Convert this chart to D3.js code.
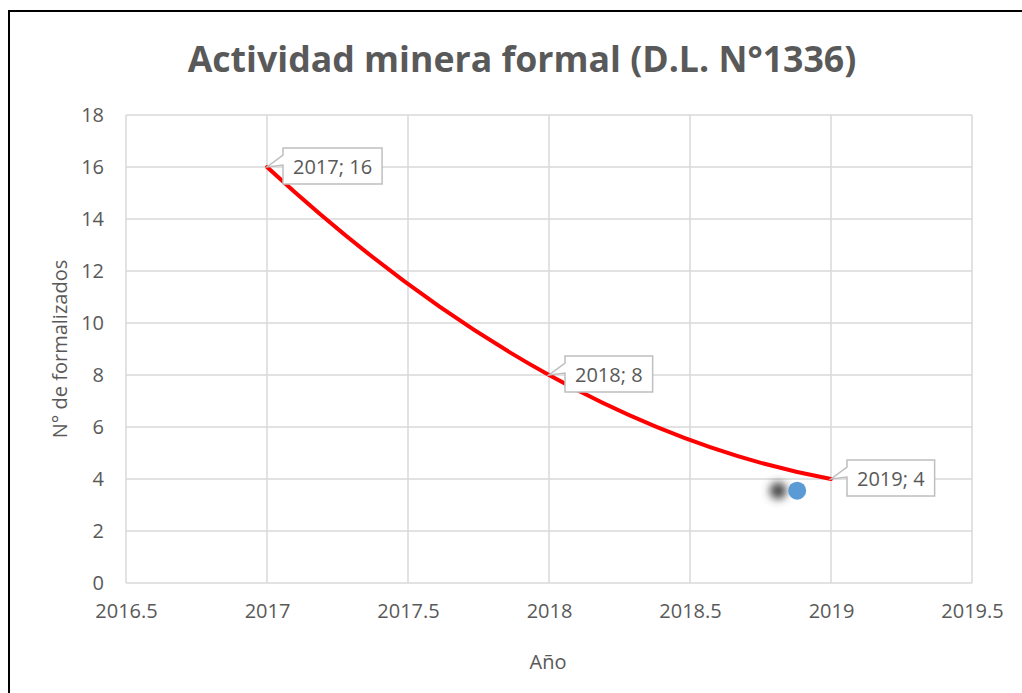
<!DOCTYPE html>
<html>
<head>
<meta charset="utf-8">
<script src="https://cdn.jsdelivr.net/npm/d3@7"></script>
<style>
  body { margin: 0; background: #fff; }
  svg { display: block; font-family: "Open Sans", sans-serif; }
</style>
</head>
<body>
<svg></svg>
<script>
// Chart data
let years = [2017, 2018, 2019];
let counts = [16, 8, 4];
let labels = ["2017; 16", "2018; 8", "2019; 4"];
// stray marker sitting in the plot
let strayPoint = [2018.88, 3.55];

// Tick labels
let xTicks = [2016.5, 2017, 2017.5, 2018, 2018.5, 2019, 2019.5];
let yTicks = [0, 2, 4, 6, 8, 10, 12, 14, 16, 18];

// Layout
let width = 1022;
let height = 693;
let plot = { left: 126, right: 972, top: 115, bottom: 583 };
let textColor = "#595959";
let gridColor = "#d9d9d9";
let fontSize = 20;

let svg = d3.select("svg").attr("width", width).attr("height", height);

let xScale = d3.scaleLinear().domain([2016.5, 2019.5]).range([plot.left, plot.right]);
let yScale = d3.scaleLinear().domain([0, 18]).range([plot.bottom, plot.top]);

// Excel-like smoothing: Hermite with central tangents, mirrored at the ends
let excelSmooth = (context) => {
	let pts = [];
	return {
		areaStart() {},
		areaEnd() {},
		lineStart() { pts = []; },
		point(x, y) { pts.push([x, y]); },
		lineEnd() {
			let n = pts.length;
			if (!n) return;
			let m = pts.map((p, i) => {
				if (i === 0 || i === n - 1) return null;
				return (pts[i + 1][1] - pts[i - 1][1]) / (pts[i + 1][0] - pts[i - 1][0]);
			});
			let slope = (i) => (pts[i + 1][1] - pts[i][1]) / (pts[i + 1][0] - pts[i][0]);
			if (n > 2) {
				m[0] = 2 * slope(0) - m[1];
				m[n - 1] = 2 * slope(n - 2) - m[n - 2];
			} else if (n === 2) {
				m[0] = m[1] = slope(0);
			}
			context.moveTo(pts[0][0], pts[0][1]);
			for (let i = 0; i < n - 1; i++) {
				let dx = (pts[i + 1][0] - pts[i][0]) / 3;
				context.bezierCurveTo(
					pts[i][0] + dx, pts[i][1] + m[i] * dx,
					pts[i + 1][0] - dx, pts[i + 1][1] - m[i + 1] * dx,
					pts[i + 1][0], pts[i + 1][1]
				);
			}
		}
	};
};

let drawFrame = () => {
	svg.append("path")
		.attr("d", "M9,700 L9,11 L1030,11")
		.attr("fill", "none")
		.attr("stroke", "#000")
		.attr("stroke-width", 2);
};

let drawTitle = () => {
	let t = svg.append("text")
		.attr("x", 522)
		.attr("y", 72)
		.attr("text-anchor", "middle")
		.attr("font-weight", "bold")
		.attr("font-size", 34)
		.attr("fill", textColor)
		.text("Actividad minera formal (D.L. N°1336)");
	// fit the title width to the original
	let w = t.node().getComputedTextLength();
	t.attr("font-size", 34 * 669 / w);
};

let drawGrid = () => {
	svg.append("g")
		.selectAll("line")
		.data(yTicks)
		.join("line")
		.attr("x1", plot.left)
		.attr("x2", plot.right)
		.attr("y1", (d) => yScale(d))
		.attr("y2", (d) => yScale(d))
		.attr("stroke", gridColor)
		.attr("stroke-width", 1.5);

	svg.append("g")
		.selectAll("line")
		.data(xTicks)
		.join("line")
		.attr("x1", (d) => xScale(d))
		.attr("x2", (d) => xScale(d))
		.attr("y1", plot.top)
		.attr("y2", plot.bottom)
		.attr("stroke", gridColor)
		.attr("stroke-width", 1.5);
};

let drawAxes = () => {
	let xAxis = d3.axisBottom(xScale).tickValues(xTicks).tickSize(0).tickPadding(21).tickFormat((d) => d);
	let yAxis = d3.axisLeft(yScale).tickValues(yTicks).tickSize(0).tickPadding(22).tickFormat((d) => d);

	let gx = svg.append("g")
		.attr("transform", "translate(0," + plot.bottom + ")")
		.call(xAxis);
	let gy = svg.append("g")
		.attr("transform", "translate(" + plot.left + ",0)")
		.call(yAxis);

	[gx, gy].forEach((g) => {
		g.select(".domain").remove();
		g.selectAll("text")
			.attr("font-family", "'Open Sans', sans-serif")
			.attr("font-size", fontSize)
			.attr("fill", textColor);
	});

	svg.append("text")
		.attr("x", 548)
		.attr("y", 669)
		.attr("text-anchor", "middle")
		.attr("font-size", fontSize)
		.attr("fill", textColor)
		.text("Año");

	svg.append("text")
		.attr("transform", "translate(67,349) rotate(-90)")
		.attr("text-anchor", "middle")
		.attr("font-size", fontSize)
		.attr("fill", textColor)
		.text("N° de formalizados");
};

let drawLine = () => {
	let line = d3.line()
		.x((d, i) => xScale(years[i]))
		.y((d) => yScale(d))
		.curve(excelSmooth);

	svg.append("path")
		.datum(counts)
		.attr("d", line)
		.attr("fill", "none")
		.attr("stroke", "#ff0000")
		.attr("stroke-width", 4)
		.attr("stroke-linecap", "round");
};

let drawStray = () => {
	let defs = svg.append("defs");
	defs.append("filter")
		.attr("id", "blur")
		.attr("x", "-100%").attr("y", "-100%")
		.attr("width", "300%").attr("height", "300%")
		.append("feGaussianBlur")
		.attr("stdDeviation", 4);

	svg.append("circle")
		.attr("cx", xScale(strayPoint[0]) - 19)
		.attr("cy", yScale(strayPoint[1]))
		.attr("r", 8.5)
		.attr("fill", "#444")
		.attr("filter", "url(#blur)");

	svg.append("circle")
		.attr("cx", xScale(strayPoint[0]))
		.attr("cy", yScale(strayPoint[1]))
		.attr("r", 9)
		.attr("fill", "#5b9bd5");
};

let drawLabels = () => {
	let g = svg.append("g")
		.selectAll("g")
		.data(labels)
		.join("g")
		.attr("transform", (d, i) => "translate(" + xScale(years[i]) + "," + yScale(counts[i]) + ")");

	g.each(function (d) {
		let node = d3.select(this);
		let text = node.append("text")
			.attr("x", 0)
			.attr("y", 0)
			.attr("font-size", fontSize)
			.attr("fill", textColor)
			.text(d);
		let w = text.node().getComputedTextLength();
		let left = 16;
		let right = left + w + 20;
		let top = -19;
		let bottom = 17;
		// callout box with a wedge pointing back to the data point
		let shape = [
			[left, top], [right, top], [right, bottom], [left, bottom],
			[left, -2], [0, 0], [left, -12]
		];
		node.insert("path", "text")
			.attr("d", "M" + shape.join("L") + "Z")
			.attr("fill", "#fff")
			.attr("stroke", "#bfbfbf")
			.attr("stroke-width", 1.5);
		text.attr("x", left + 10).attr("y", 7);
	});
};

drawFrame();
drawTitle();
drawGrid();
drawAxes();
drawLine();
drawStray();
drawLabels();
</script>
</body>
</html>
